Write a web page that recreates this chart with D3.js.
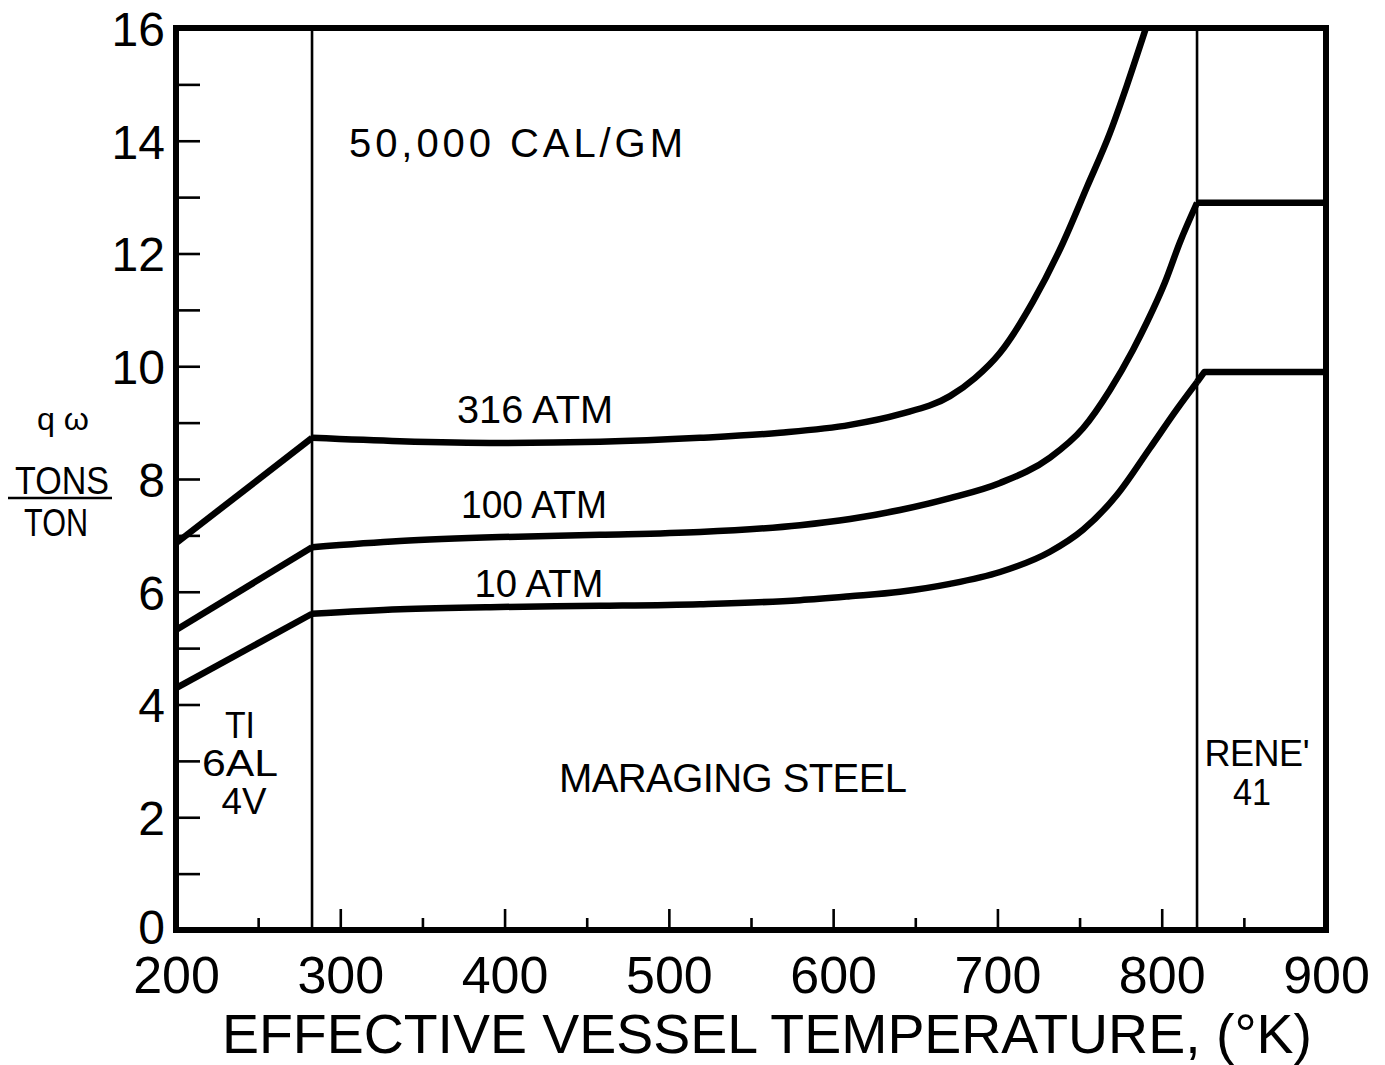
<!DOCTYPE html>
<html>
<head>
<meta charset="utf-8">
<script src="https://cdn.jsdelivr.net/npm/d3@7"></script>
<style>
  html, body { margin: 0; padding: 0; background: #fff; }
  svg { display: block; }
  text { font-family: "Liberation Sans", Arial, sans-serif; fill: #000; }
</style>
</head>
<body>
<svg id="chart" width="1385" height="1065"></svg>
<script>
// Tick values
const xTickLabels = [200, 300, 400, 500, 600, 700, 800, 900];
const xMinorTicks = [250, 350, 450, 550, 650, 750, 850];
const yTickLabels = [0, 2, 4, 6, 8, 10, 12, 14, 16];
const yMinorTicks = [1, 3, 5, 7, 9, 11, 13, 15];

// Alloy boundaries (deg K): Ti-6Al-4V | maraging steel | Rene' 41
const alloyBounds = [282.8, 821.5];

// qω (tons/ton) vs effective vessel temperature, 50,000 cal/gm
const atm316 = [
  [200, 6.86], [282.8, 8.73], [336.3, 8.67], [397.2, 8.64], [458.1, 8.66],
  [518.9, 8.73], [567.7, 8.82], [610.3, 8.96], [640.7, 9.15], [671.1, 9.47],
  [686.3, 9.79], [701.6, 10.24], [721.7, 11.15], [739.9, 12.19], [754.5, 13.18],
  [768.5, 14.14], [778.9, 14.99], [788.6, 15.84], [790.4, 16.0]
];
const atm100 = [
  [200, 5.32], [282.8, 6.79], [336.3, 6.90], [397.2, 6.97], [458.1, 7.01],
  [518.9, 7.06], [579.8, 7.18], [610.3, 7.29], [640.7, 7.45], [671.1, 7.66],
  [701.6, 7.93], [732.0, 8.38], [752.1, 8.90], [768.5, 9.58], [782.5, 10.29],
  [791.0, 10.78], [802.0, 11.49], [811.1, 12.20], [821.5, 12.9], [900, 12.9]
];
const atm10 = [
  [200, 4.29], [282.8, 5.61], [336.3, 5.69], [397.2, 5.73], [458.1, 5.75],
  [518.9, 5.78], [579.8, 5.85], [610.3, 5.92], [640.7, 6.00], [671.1, 6.14],
  [701.6, 6.35], [732.0, 6.71], [752.1, 7.10], [772.8, 7.72], [792.9, 8.55],
  [809.3, 9.24], [821.5, 9.72], [826.0, 9.90], [900, 9.90]
];

const seriesLabels = [
  { text: "316 ATM", x: 535, y: 423, w: 156 },
  { text: "100 ATM", x: 534, y: 518, w: 146 },
  { text: "10 ATM", x: 539, y: 597, w: 129 }
];

const svg = d3.select("#chart");
const plot = { left: 176, right: 1326, top: 28, bottom: 930 };

const x = d3.scaleLinear().domain([200, 900]).range([plot.left, plot.right]);
const y = d3.scaleLinear().domain([0, 16]).range([plot.bottom, plot.top]);

// Alloy divider lines
svg.append("g").selectAll("line")
  .data(alloyBounds).join("line")
  .attr("x1", d => x(d)).attr("x2", d => x(d))
  .attr("y1", y(16)).attr("y2", y(0))
  .attr("stroke", "#000").attr("stroke-width", 2.6);

// Y axis: ticks every unit pointing inward, labels on even values
const yAxisMinor = d3.axisLeft(y).tickValues(yMinorTicks).tickSize(-24).tickFormat("");
const yAxisMajor = d3.axisLeft(y).tickValues(yTickLabels).tickSize(-24).tickPadding(11)
  .tickFormat(d3.format("d"));
[yAxisMinor, yAxisMajor].forEach(ax => {
  const g = svg.append("g").attr("transform", `translate(${plot.left},0)`).call(ax);
  g.select(".domain").remove();
  g.selectAll(".tick line").attr("stroke", "#000").attr("stroke-width", 2.6);
  g.selectAll(".tick text")
    .attr("font-size", 48).attr("dy", d => d === 0 ? "0.28em" : "0.36em")
    .style("font-family", "'Liberation Sans', Arial, sans-serif");
});

// X axis: minor ticks at 50s, longer ticks at 100s, all pointing up
const xAxisMinor = d3.axisBottom(x).tickValues(xMinorTicks).tickSize(-12).tickFormat("");
const xAxisMajor = d3.axisBottom(x).tickValues(xTickLabels).tickSize(-21).tickPadding(26)
  .tickFormat(d3.format("d"));
[xAxisMinor, xAxisMajor].forEach(ax => {
  const g = svg.append("g").attr("transform", `translate(0,${plot.bottom})`).call(ax);
  g.select(".domain").remove();
  g.selectAll(".tick line").attr("stroke", "#000").attr("stroke-width", 2.6);
  g.selectAll(".tick text")
    .attr("font-size", 52).attr("dy", "0.71em")
    .style("font-family", "'Liberation Sans', Arial, sans-serif");
});

// Heavy frame
svg.append("rect")
  .attr("x", plot.left).attr("y", plot.top)
  .attr("width", plot.right - plot.left).attr("height", plot.bottom - plot.top)
  .attr("fill", "none").attr("stroke", "#000").attr("stroke-width", 6);

// Curves: straight in the Ti and Rene' zones, smooth across maraging steel
const straight = d3.line().x(d => x(d[0])).y(d => y(d[1]));
const smooth = d3.line().x(d => x(d[0])).y(d => y(d[1])).curve(d3.curveMonotoneX);
function drawSeries(pts) {
  const [a, b] = alloyBounds;
  const g = svg.append("g").attr("fill", "none").attr("stroke", "#000")
    .attr("stroke-width", 6.5).attr("stroke-linejoin", "round");
  const ti = pts.filter(p => p[0] <= a);
  const ms = pts.filter(p => p[0] >= a && p[0] <= b);
  const rn = pts.filter(p => p[0] >= b);
  g.append("path").attr("d", straight(ti));
  g.append("path").attr("d", smooth(ms));
  if (rn.length > 1) g.append("path").attr("d", straight(rn));
}
[atm316, atm100, atm10].forEach(drawSeries);

// Annotations
function label(text, cx, baseline, size, width, adjust) {
  const t = svg.append("text")
    .attr("x", cx).attr("y", baseline)
    .attr("text-anchor", "middle")
    .attr("font-size", size)
    .text(text);
  if (width) t.attr("textLength", width).attr("lengthAdjust", adjust || "spacingAndGlyphs");
  return t;
}

seriesLabels.forEach(s => label(s.text, s.x, s.y, 39, s.w));
label("50,000 CAL/GM", 516, 157, 40, 334, "spacing");
label("MARAGING STEEL", 733, 792, 40, 348, "spacing");
label("TI", 240, 738, 36, 30);
label("6AL", 240, 776, 36, 76);
label("4V", 244, 814, 36, 45);
label("RENE'", 1257, 766, 36, 105, "spacing");
label("41", 1252, 805, 36, 38);

// Y axis title: qω, TONS over TON
label("q ω", 63, 430, 31, 52);
label("TONS", 62, 494, 38, 94);
svg.append("line").attr("x1", 8).attr("x2", 112).attr("y1", 498).attr("y2", 498)
  .attr("stroke", "#000").attr("stroke-width", 2.4);
label("TON", 56, 536, 38, 64);

// X axis title
label("EFFECTIVE VESSEL TEMPERATURE, (°K)", 767, 1053, 56, 1090);
</script>
</body>
</html>
